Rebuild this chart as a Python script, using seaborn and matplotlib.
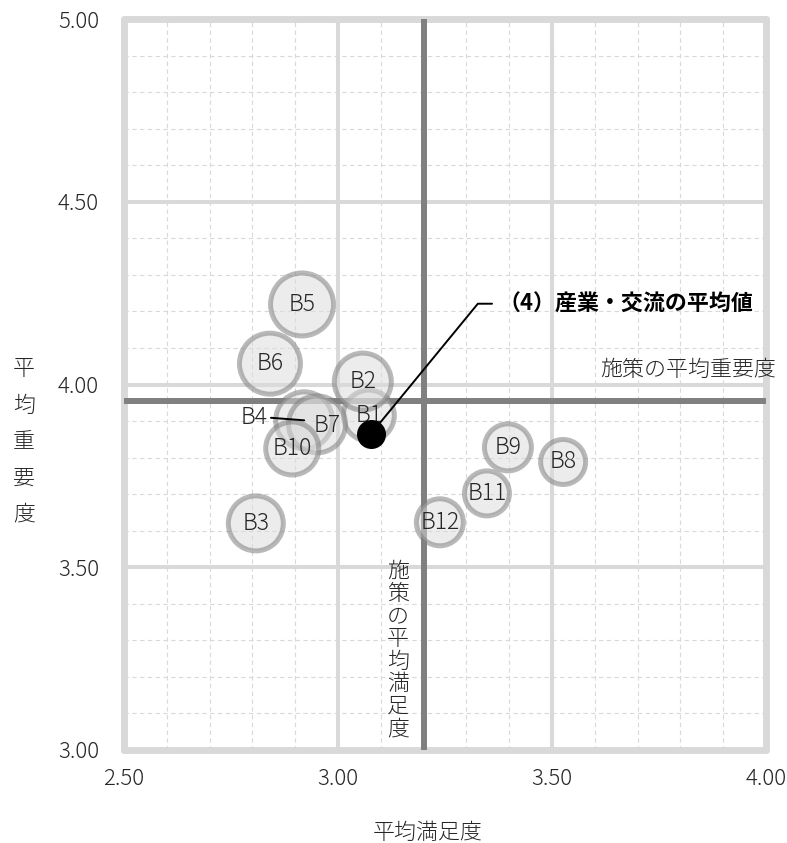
import matplotlib
matplotlib.use('Agg')
import matplotlib.pyplot as plt
import seaborn as sns
import pandas as pd
from matplotlib.ticker import MultipleLocator, FixedLocator

# ---------------- data ----------------
labels = ['B1', 'B2', 'B3', 'B4', 'B5', 'B6', 'B7', 'B8', 'B9', 'B10', 'B11', 'B12']
satisfaction = [3.072, 3.058, 2.808, 2.921, 2.916, 2.841, 2.951, 3.526, 3.397, 2.893, 3.348, 3.238]
importance = [3.915, 4.008, 3.620, 3.902, 4.219, 4.057, 3.891, 3.788, 3.828, 3.825, 3.702, 3.623]
bubble = [28, 31, 30, 31, 34, 33, 31, 25, 26, 29, 25, 26]

group_mean_sat = 3.077
group_mean_imp = 3.865
overall_mean_sat = 3.201
overall_mean_imp = 3.956

x_ticks = [2.5, 3.0, 3.5, 4.0]
y_ticks = [3.0, 3.5, 4.0, 4.5, 5.0]
x_label = '平均満足度'
y_label = '平均重要度'
group_label = '（4）産業・交流の平均値'
h_line_label = '施策の平均重要度'
v_line_label = '施策の平均満足度'

# ---------------- style ----------------
sns.set_style('white')
plt.rcParams['font.family'] = ['Noto Sans CJK JP', 'DejaVu Sans']
plt.rcParams['font.weight'] = 'light'
TXT = '#262626'
LIGHT = '#d9d9d9'
DARK = '#808080'

df = pd.DataFrame({'label': labels, 'sat': satisfaction, 'imp': importance, 'bubble': bubble})

def area(v):
    return (2 * (v - 2.5) * 0.72) ** 2

fig = plt.figure(figsize=(7.87, 8.43), dpi=100)
ax = fig.add_axes([124 / 787, 1 - 750 / 843, (766 - 124) / 787, (750 - 19) / 843])

ax.set_xlim(x_ticks[0], x_ticks[-1])
ax.set_ylim(y_ticks[0], y_ticks[-1])
ax.xaxis.set_major_locator(FixedLocator(x_ticks))
ax.yaxis.set_major_locator(FixedLocator(y_ticks))
ax.xaxis.set_minor_locator(MultipleLocator(0.1))
ax.yaxis.set_minor_locator(MultipleLocator(0.1))
ax.set_xticklabels([f'{t:.2f}' for t in x_ticks])
ax.set_yticklabels([f'{t:.2f}' for t in y_ticks])
ax.tick_params(which='both', length=0)
ax.tick_params(axis='x', pad=13, labelsize=16, labelcolor=TXT)
ax.tick_params(axis='y', pad=18, labelsize=16, labelcolor=TXT)

ax.grid(which='minor', color=LIGHT, linewidth=0.8, linestyle=(0, (4, 3)), zorder=0)
ax.grid(which='major', color=LIGHT, linewidth=2.9, linestyle='-', zorder=0.5)
ax.set_axisbelow(True)

for sp in ax.spines.values():
    sp.set_visible(True)
    sp.set_color(LIGHT)
    sp.set_linewidth(5)
    sp.set_capstyle('round')
    sp.set_zorder(1)

# overall average lines
ax.axvline(overall_mean_sat, color=DARK, linewidth=4.3, zorder=2)
ax.axhline(overall_mean_imp, color=DARK, linewidth=4.3, zorder=2)

# bubbles
sizes = {v: area(v) for v in sorted(set(bubble))}
sns.scatterplot(data=df, x='sat', y='imp', size='bubble', sizes=sizes, legend=False,
                color=(0.86, 0.86, 0.86, 0.5), edgecolor=(0.5, 0.5, 0.5, 0.55),
                linewidth=3.6, ax=ax, zorder=3)

# bubble labels
offsets = {'B4': (-36, 2), 'B7': (7, -1)}
for lab, x, y in zip(labels, satisfaction, importance):
    if lab == 'B4':
        ax.annotate(lab, xy=(x, y), xytext=offsets[lab], textcoords='offset points',
                    ha='center', va='center', fontsize=16.5, color=TXT, zorder=6,
                    arrowprops=dict(arrowstyle='-', color='black', lw=1.4,
                                    relpos=(1, 0.5), shrinkA=0, shrinkB=0))
    else:
        dx, dy = offsets.get(lab, (0, 0))
        ax.annotate(lab, xy=(x, y), xytext=(dx, dy), textcoords='offset points',
                    ha='center', va='center', fontsize=16.5, color=TXT, zorder=6)

# group average point
sns.scatterplot(x=[group_mean_sat], y=[group_mean_imp], s=436, color='black',
                edgecolor='black', linewidth=0, ax=ax, zorder=8, legend=False)
ax.annotate(group_label, xy=(group_mean_sat, group_mean_imp), xytext=(3.374, 4.221),
            textcoords='data', ha='left', va='center', fontsize=15.8, fontweight='bold',
            color='black', zorder=9, annotation_clip=False,
            arrowprops=dict(arrowstyle='-', color='black', lw=1.4, relpos=(0, 0.5),
                            connectionstyle='angle,angleA=0,angleB=50.6,rad=0',
                            shrinkA=2, shrinkB=0))

# reference line labels
ax.text(x_ticks[-1] + 0.024, overall_mean_imp + 0.085, h_line_label, ha='right', va='center',
        fontsize=15.8, color=TXT, zorder=6, clip_on=False)
ax.text(overall_mean_sat - 0.061, 3.273, '\n'.join(v_line_label), ha='center', va='center',
        fontsize=15.8, color=TXT, zorder=6, linespacing=1.03)

# axis titles
fig.text(428 / 787, 1 - 833 / 843, x_label, ha='center', va='center', fontsize=15.8, color=TXT)
fig.text(24 / 787, 1 - 442 / 843, '\n'.join(y_label), ha='center', va='center', fontsize=15.8,
         color=TXT, linespacing=1.85)
ax.set_xlabel('')
ax.set_ylabel('')

fig.savefig('out.png', dpi=100)
